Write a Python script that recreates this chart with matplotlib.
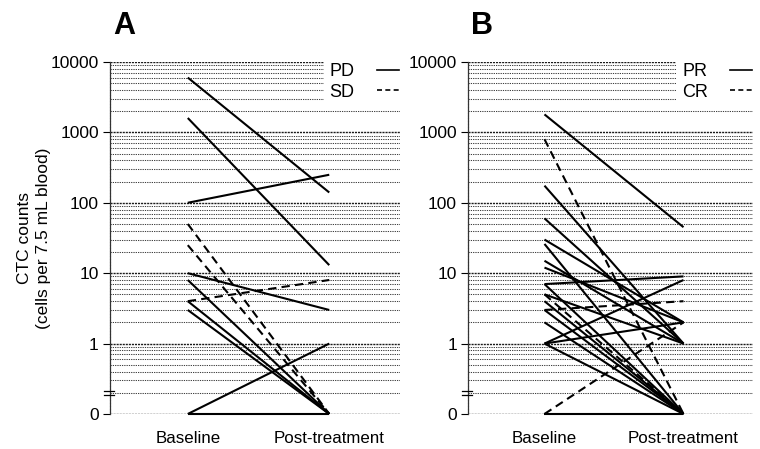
import matplotlib
matplotlib.use('Agg')
import matplotlib.pyplot as plt
from matplotlib.lines import Line2D
import numpy as np

plt.rcParams['font.family'] = ['Liberation Sans', 'DejaVu Sans']

# Panel A: progressive disease (PD, solid) and stable disease (SD, dashed)
a_pd_base = [6000, 1600, 100, 10, 8, 4, 3, 0, 0]
a_pd_post = [140, 13, 250, 3, 0, 0, 0, 1, 0]
a_sd_base = [50, 25, 4]
a_sd_post = [0, 0, 8]

# Panel B: partial response (PR, solid) and complete response (CR, dashed)
b_pr_base = [1800, 175, 60, 30, 26, 15, 12, 7, 7, 5, 4, 3, 2, 1, 1, 1, 0]
b_pr_post = [45, 1, 1, 2, 0, 1, 2, 9, 0, 1, 0, 0, 0, 8, 2, 0, 0]
b_cr_base = [800, 5, 3, 0]
b_cr_post = [0, 0, 4, 2]

timepoints = ['Baseline', 'Post-treatment']
ytick_vals = [0.1, 1, 10, 100, 1000, 10000]
ytick_labels = ['0', '1', '10', '100', '1000', '10000']

ZERO = 0.1  # where a count of 0 is drawn on the log axis


def to_plot(v):
    v = np.asarray(v, dtype=float)
    return np.where(v == 0, ZERO, v)


def draw_panel(ax, solid_b, solid_p, dash_b, dash_p, labels, letter):
    ax.set_yscale('log')
    ax.set_ylim(ZERO, 10000)
    ax.set_xlim(-0.55, 1.5)

    # dotted horizontal grid at every decade and sub-decade
    for dec in [0.1, 1, 10, 100, 1000]:
        for k in range(1, 10):
            yv = dec * k
            if k == 1:
                ax.axhline(yv, color='0.1', lw=1.0, ls=(0, (1.5, 0.7)), zorder=1)
            else:
                ax.axhline(yv, color='0.25', lw=0.75, ls=(0, (1.2, 1.0)), zorder=1)
    ax.axhline(10000, color='0.1', lw=1.0, ls=(0, (1.5, 0.7)), zorder=1)

    for b, p in zip(solid_b, solid_p):
        ax.plot([0, 1], to_plot([b, p]), color='black', lw=1.5,
                solid_capstyle='butt', clip_on=False, zorder=3)
    for b, p in zip(dash_b, dash_p):
        ax.plot([0, 1], to_plot([b, p]), color='black', lw=1.5,
                ls=(0, (4, 2.5)), clip_on=False, zorder=3)

    ax.set_yticks(ytick_vals)
    ax.set_yticklabels(ytick_labels)
    ax.yaxis.set_minor_locator(matplotlib.ticker.NullLocator())
    ax.set_xticks([0, 1])
    ax.set_xticklabels(timepoints)
    ax.tick_params(axis='x', length=0, pad=12, labelsize=12.2)
    ax.tick_params(axis='y', length=5, width=0.8, pad=3, labelsize=12.5)

    for s in ['top', 'right', 'bottom']:
        ax.spines[s].set_visible(False)
    ax.spines['left'].set_linestyle((0, (1.5, 0.8)))
    ax.spines['left'].set_linewidth(0.9)
    ax.spines['left'].set_color('0.2')

    # axis break marks near 0
    ax.plot([-0.59, -0.52], [0.185, 0.185], color='black', lw=0.9,
            clip_on=False, zorder=5)
    ax.plot([-0.59, -0.52], [0.21, 0.21], color='black', lw=0.9,
            clip_on=False, zorder=5)

    handles = [Line2D([], [], color='black', lw=1.2),
               Line2D([], [], color='black', lw=1.2, ls=(0, (3, 2)))]
    leg = ax.legend(handles, labels, loc='upper right', bbox_to_anchor=(1.015, 1.012),
                    markerfirst=False, frameon=True, fontsize=13,
                    handlelength=1.2, handletextpad=1.25, labelspacing=0.2,
                    borderpad=0.3, borderaxespad=0.0)
    leg.get_frame().set_facecolor('white')
    leg.get_frame().set_edgecolor('none')
    leg.get_frame().set_alpha(1)
    leg.set_zorder(4)

    ax.text(0.01, 1.06, letter, transform=ax.transAxes, fontsize=22,
            fontweight='heavy', va='bottom', ha='left')


fig = plt.figure(figsize=(7.6, 4.49), dpi=100)
ax_a = fig.add_axes([0.1447, 0.078, 0.3816, 0.784])
ax_b = fig.add_axes([0.6158, 0.078, 0.375, 0.784])

draw_panel(ax_a, a_pd_base, a_pd_post, a_sd_base, a_sd_post, ['PD', 'SD'], 'A')
draw_panel(ax_b, b_pr_base, b_pr_post, b_cr_base, b_cr_post, ['PR', 'CR'], 'B')

fig.text(0.045, 0.47, 'CTC counts\n(cells per 7.5 mL blood)', rotation=90,
         ha='center', va='center', fontsize=12.5, linespacing=1.3)

fig.savefig('out.png', dpi=100)
